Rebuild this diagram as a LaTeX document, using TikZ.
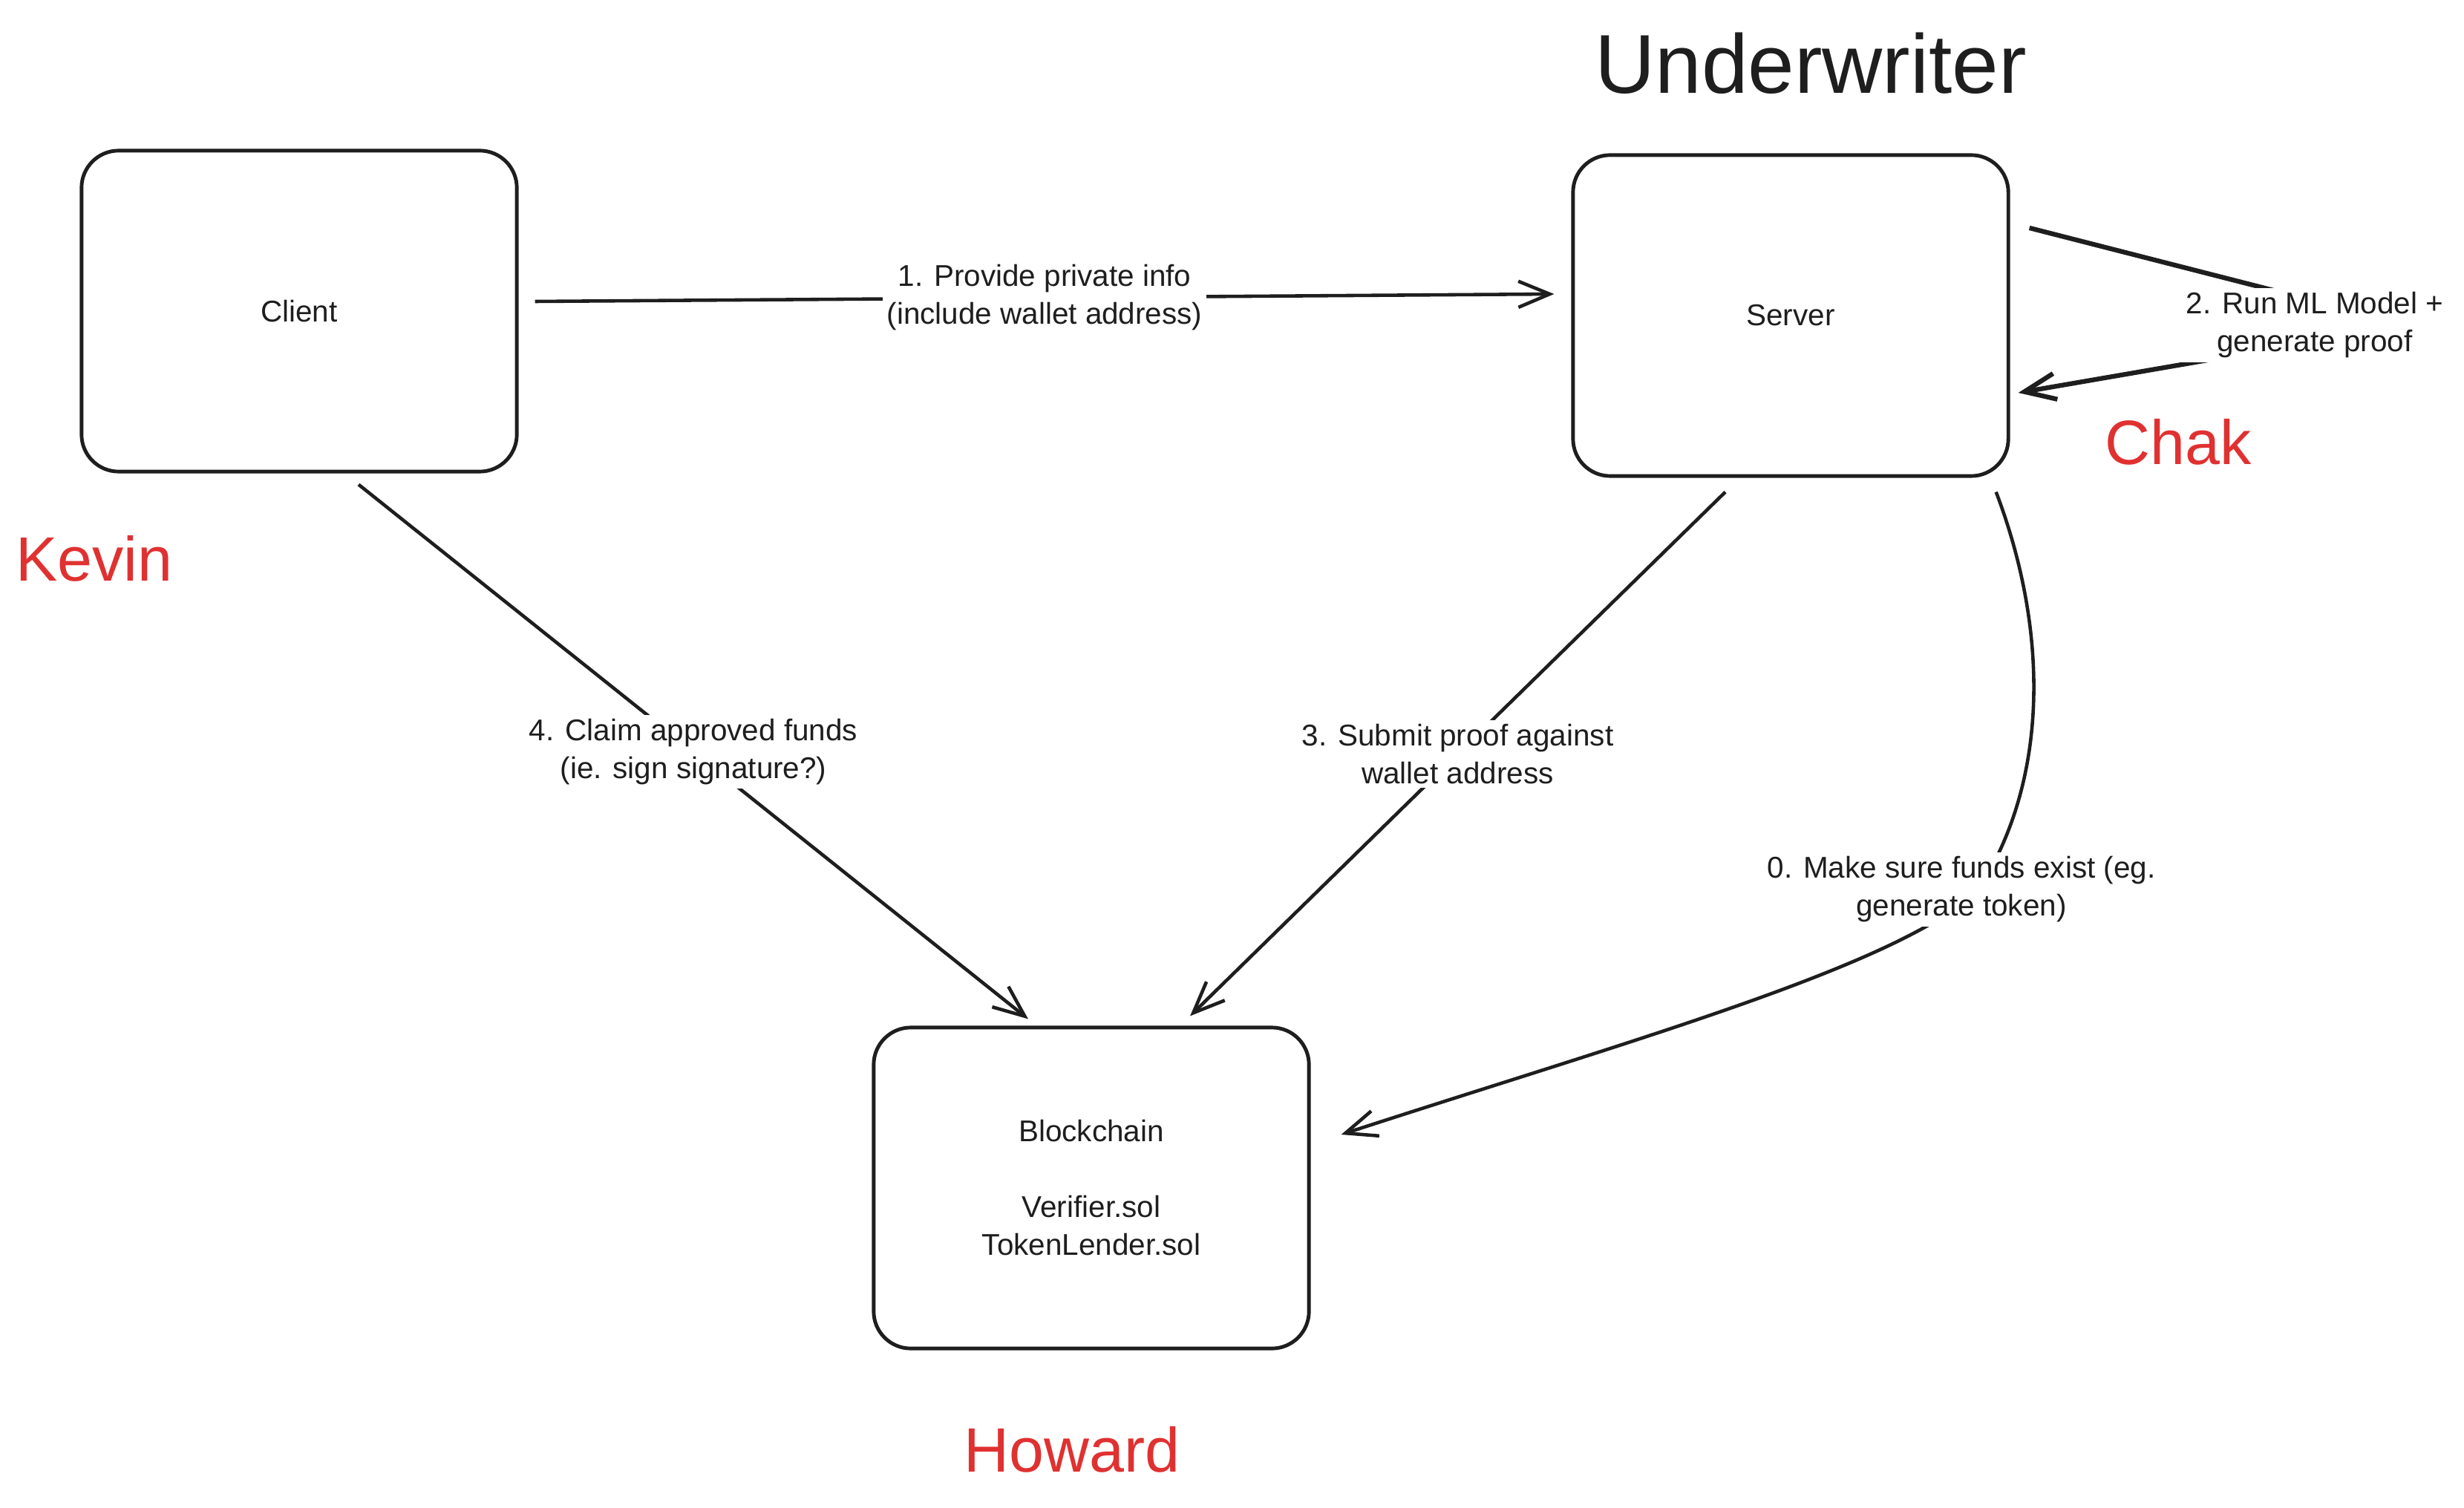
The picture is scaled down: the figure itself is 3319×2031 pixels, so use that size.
\documentclass[tikz,border=0pt]{standalone}
\usepackage{fontspec}
\setmainfont{Liberation Sans}
\usepackage{xcolor}
\usetikzlibrary{arrows.meta,calc}

\definecolor{ink}{HTML}{1E1E1E}
\definecolor{namered}{HTML}{E03131}

\begin{document}
\begin{tikzpicture}[
  x=0.01cm, y=-0.01cm,
  box/.style={draw=ink, line width=1.4pt, rounded corners=0.5cm,
    minimum width=5.86cm, minimum height=4.32cm, align=center,
    font=\fontsize{11.5}{14.5}\selectfont, text=ink},
  arr/.style={-{Straight Barb[length=12pt, width=10pt]}, line width=1.3pt,
    draw=ink},
  note/.style={fill=white, align=center, inner sep=1.5pt, text=ink,
    font=\fontsize{11.5}{14.5}\selectfont},
  who/.style={text=namered, font=\fontsize{24}{28}\selectfont},
]
\useasboundingbox (0,0) rectangle (3319,2031);

\node[box] (client) at (403,419) {Client};
\node[box] (server) at (2412,425) {Server};
\node[box] (chain) at (1470,1600)
  {Blockchain\\~\\Verifier.sol\\TokenLender.sol};

\node[text=ink, font=\fontsize{32}{38}\selectfont] (title) at (2439,85)
  {Underwriter};

% who owns which part
\node[who] (kevin) at (127,752) {Kevin};
\node[who] (chak) at (2934,595) {Chak};
\node[who] (howard) at (1444,1952) {Howard};

\draw[arr] ([shift={(22,-13)}]client.east) -- ([shift={(-23,-29)}]server.west)
  node[midway, note] {1. Provide private info\\(include wallet address)};
\draw[arr, line width=1.8pt] ([shift={(26,-118)}]server.east) -- (3246,438)
  node[note, xshift=-1.28cm] {2. Run ML Model +\\generate proof}
  -- ([shift={(11,104)}]server.east);
\draw[arr] ([shift={(-88,19)}]server.south) -- ([shift={(133,-13)}]chain.north)
  node[midway, note] {3. Submit proof against\\wallet address};
\draw[arr] ([shift={(80,15)}]client.south) -- ([shift={(-85,-9)}]chain.north)
  node[midway, note] {4. Claim approved funds\\(ie. sign signature?)};
\draw[arr] ([shift={(-19,19)}]server.south east)
  .. controls (2760,850) and (2760,1050) .. (2665,1198)
  node[note, xshift=-0.23cm] {0. Make sure funds exist (eg.\\generate token)}
  .. controls (2560,1300) and (2200,1400) .. ([shift={(41,-72)}]chain.east);

\end{tikzpicture}
\end{document}
